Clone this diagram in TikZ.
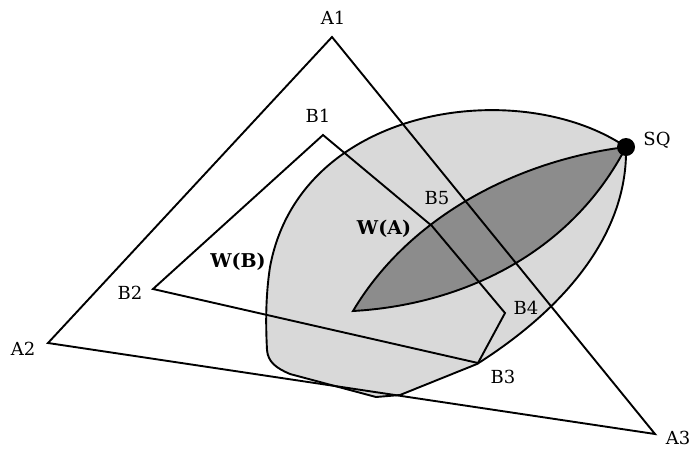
\documentclass[tikz,border=0pt]{standalone}
\usepackage{fontspec}
\setmainfont{DejaVu Serif}
\definecolor{lightg}{gray}{0.85}
\definecolor{darkg}{gray}{0.55}
\begin{document}
\begin{tikzpicture}[x=1pt,y=-1pt,line width=1.9pt,line join=miter,
  lbl/.style={font=\fontsize{18}{20}\selectfont,inner sep=0pt},
  blbl/.style={font=\fontsize{19}{21}\selectfont\bfseries,inner sep=0pt},
  edge/.style={draw=black,line width=1.9pt}]
\useasboundingbox (0,0) rectangle (693,448);
% triangle A
\coordinate (A1) at (332,37);
\coordinate (A2) at (48,343);
\coordinate (A3) at (655,434);
% polygon B
\coordinate (B1) at (323,135);
\coordinate (B2) at (153,289);
\coordinate (B3) at (478,363);
\coordinate (B4) at (505,313);
\coordinate (B5) at (432,226);
% winsets
\coordinate (SQ) at (626,147);
\coordinate (tip) at (353,311);
\filldraw[fill=lightg,edge] (SQ) .. controls (520,75) and (300,105) .. (270,267)
  .. controls (265,300) and (266,330) .. (267,350)
  .. controls (268,362) and (276,368) .. (290,374)
  -- (376,397) -- (400,395) -- (477,364)
  .. controls (570,305) and (628,230) .. (SQ) -- cycle;
\filldraw[fill=darkg,edge] (tip) .. controls (410,215) and (520,160) .. (SQ)
  .. controls (570,255) and (460,305) .. (tip) -- cycle;
\draw[edge] (A1) -- (A2) -- (A3) -- cycle;
\draw[edge] (B1) -- (B2) -- (B3) -- (B4) -- (B5) -- cycle;
\fill (SQ) circle (9);
% labels
\node[lbl] (lA1) at (333,18) {A1};
\node[lbl] (lA2) at (23,349) {A2};
\node[lbl] (lA3) at (678,438) {A3};
\node[lbl] (lB1) at (318,116) {B1};
\node[lbl] (lB2) at (130,293) {B2};
\node[lbl] (lB3) at (503,377) {B3};
\node[lbl] (lB4) at (526,308) {B4};
\node[lbl] (lB5) at (437,198) {B5};
\node[lbl] (lSQ) at (657,140) {SQ};
\node[blbl] (lWA) at (384,229) {W(A)};
\node[blbl] (lWB) at (238,262) {W(B)};
\end{tikzpicture}
\end{document}
